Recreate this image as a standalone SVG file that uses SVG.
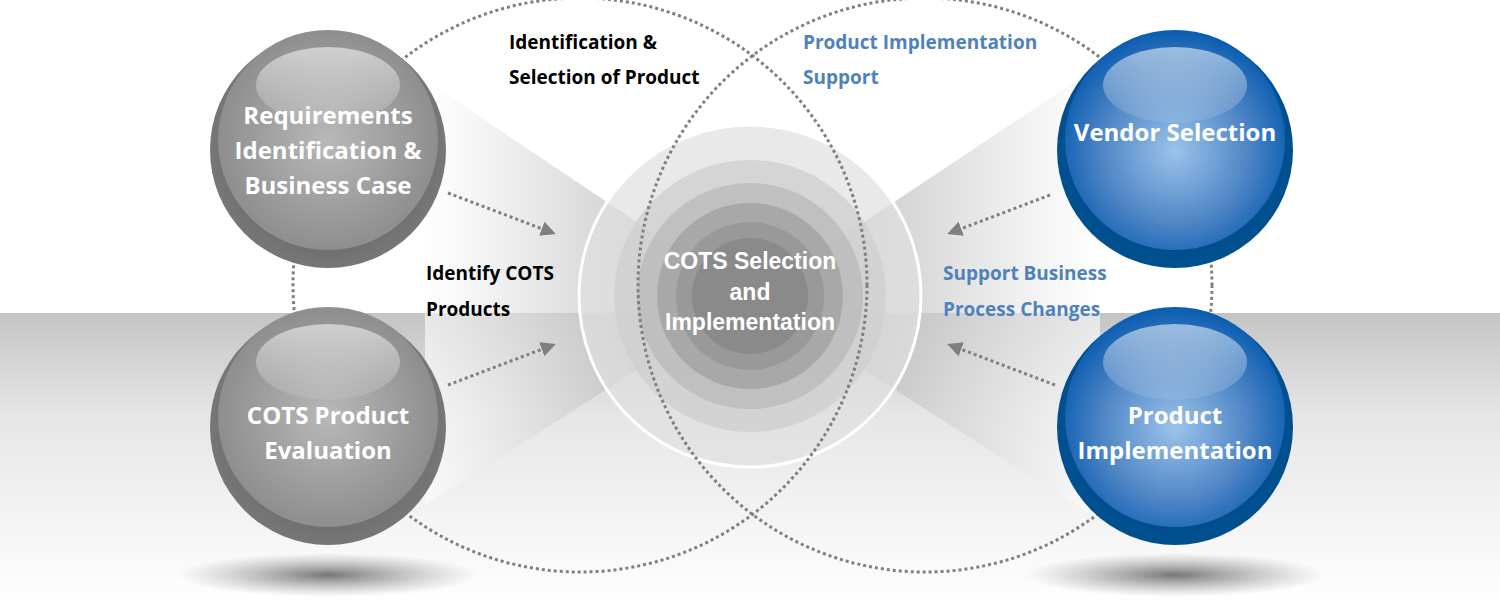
<svg xmlns="http://www.w3.org/2000/svg" width="1500" height="605" viewBox="0 0 1500 605">
<defs>
<linearGradient id="bg" x1="0" y1="0" x2="0" y2="1"><stop offset="0" stop-color="#c4c4c4"/><stop offset="0.35" stop-color="#e6e6e6"/><stop offset="1" stop-color="#ffffff"/></linearGradient>
<linearGradient id="bl" x1="0" y1="0" x2="1" y2="0"><stop offset="0" stop-color="#ffffff" stop-opacity="0.6"/><stop offset="1" stop-color="#999" stop-opacity="0.8"/></linearGradient>
<linearGradient id="br" x1="1" y1="0" x2="0" y2="0"><stop offset="0" stop-color="#ffffff" stop-opacity="0.6"/><stop offset="1" stop-color="#999" stop-opacity="0.8"/></linearGradient>
<radialGradient id="gOut" cx="0.5" cy="0.5" r="0.5"><stop offset="0.7" stop-color="#6a6a6a"/><stop offset="1" stop-color="#777"/></radialGradient>
<radialGradient id="gIn" cx="0.5" cy="0.5" r="0.55"><stop offset="0" stop-color="#b8b8b8"/><stop offset="1" stop-color="#8a8a8a"/></radialGradient>
<radialGradient id="bOut" cx="0.5" cy="0.5" r="0.5"><stop offset="0.7" stop-color="#004b8c"/><stop offset="1" stop-color="#00508f"/></radialGradient>
<radialGradient id="bIn" cx="0.5" cy="0.55" r="0.55"><stop offset="0" stop-color="#9cc3ea"/><stop offset="0.6" stop-color="#4f86c6"/><stop offset="1" stop-color="#0a5cb0"/></radialGradient>
<linearGradient id="hl" x1="0" y1="0" x2="0" y2="1"><stop offset="0" stop-color="#fff" stop-opacity="0.55"/><stop offset="1" stop-color="#fff" stop-opacity="0.08"/></linearGradient>
<radialGradient id="sh" cx="0.5" cy="0.5" r="0.5"><stop offset="0" stop-color="#555" stop-opacity="0.8"/><stop offset="1" stop-color="#888" stop-opacity="0"/></radialGradient>
<marker id="ah" viewBox="0 0 10 10" refX="8" refY="5" markerWidth="5" markerHeight="5" orient="auto"><path d="M0,0L10,5L0,10z" fill="#7f7f7f"/></marker>
</defs>
<style>
.dot{fill:none;stroke:#7f7f7f;stroke-width:3;stroke-dasharray:3 3}
.arr{fill:none;stroke:#7f7f7f;stroke-width:3;stroke-dasharray:3 3;marker-end:url(#ah)}
.st{font-family:"Open Sans","Liberation Sans",sans-serif;font-weight:bold;font-size:24px;fill:#fff;text-anchor:middle}
.ct{font-family:"Liberation Sans",Arial,sans-serif;font-weight:bold;font-size:23px;fill:#fff;text-anchor:middle}
.lb{font-family:"Open Sans","Liberation Sans",sans-serif;font-weight:bold;font-size:19px;fill:#000}
.lbb{font-family:"Open Sans","Liberation Sans",sans-serif;font-weight:bold;font-size:19px;fill:#4f81bd}
</style>
<rect width="1500" height="605" fill="#fff"/>
<rect y="313" width="1500" height="292" fill="url(#bg)"/>
<ellipse cx="328" cy="575" rx="150" ry="22" fill="url(#sh)"/>
<ellipse cx="1175" cy="575" rx="150" ry="22" fill="url(#sh)"/>
<g id="beams">
<polygon points="425,80 425,505 750,298" fill="url(#bl)"/>
<polygon points="1100,65 1100,520 750,298" fill="url(#br)"/>
</g>
<g id="center">
<circle cx="750" cy="296" r="171" fill="#e0e0e0" fill-opacity="0.7" stroke="#fff" stroke-width="3"/>
<circle cx="750" cy="296" r="136" fill="#cfcfcf" fill-opacity="0.8"/>
<circle cx="750" cy="296" r="113" fill="#bcbcbc" fill-opacity="0.85"/>
<circle cx="750" cy="296" r="93" fill="#a8a8a8"/>
<circle cx="750" cy="296" r="74" fill="#999"/>
<circle cx="750" cy="296" r="58" fill="#8a8a8a"/>
<text class="ct" x="750" y="269">COTS Selection</text>
<text class="ct" x="750" y="300">and</text>
<text class="ct" x="750" y="330">Implementation</text>
</g>
<g id="connectors">
<circle class="dot" cx="580" cy="285" r="287"/>
<circle class="dot" cx="925" cy="285" r="287"/>
<path class="arr" d="M448,193 L553,233"/>
<path class="arr" d="M448,385 L553,345"/>
<path class="arr" d="M1050,195 L950,233"/>
<path class="arr" d="M1055,385 L950,345"/>
</g>
<g id="n1"><circle cx="328" cy="150" r="118" fill="url(#gOut)"/><circle cx="328" cy="140" r="110" fill="url(#gIn)"/><ellipse cx="328" cy="85" rx="72" ry="38" fill="url(#hl)"/>
<text class="st" x="328" y="124">Requirements</text><text class="st" x="328" y="159">Identification &amp;</text><text class="st" x="328" y="194">Business Case</text></g>
<g id="n2"><circle cx="328" cy="427" r="118" fill="url(#gOut)"/><circle cx="328" cy="417" r="110" fill="url(#gIn)"/><ellipse cx="328" cy="362" rx="72" ry="38" fill="url(#hl)"/>
<text class="st" x="328" y="424">COTS Product</text><text class="st" x="328" y="459">Evaluation</text></g>
<g id="n3"><circle cx="1175" cy="150" r="118" fill="url(#bOut)"/><circle cx="1175" cy="140" r="110" fill="url(#bIn)"/><ellipse cx="1175" cy="85" rx="72" ry="38" fill="url(#hl)"/>
<text class="st" x="1175" y="141">Vendor Selection</text></g>
<g id="n4"><circle cx="1175" cy="427" r="118" fill="url(#bOut)"/><circle cx="1175" cy="417" r="110" fill="url(#bIn)"/><ellipse cx="1175" cy="362" rx="72" ry="38" fill="url(#hl)"/>
<text class="st" x="1175" y="424">Product</text><text class="st" x="1175" y="459">Implementation</text></g>
<g id="labels">
<text class="lb" x="509" y="49">Identification &amp;</text><text class="lb" x="509" y="84">Selection of Product</text>
<text class="lbb" x="803" y="49">Product Implementation</text><text class="lbb" x="803" y="84">Support</text>
<text class="lb" x="426" y="280">Identify COTS</text><text class="lb" x="426" y="316">Products</text>
<text class="lbb" x="943" y="280">Support Business</text><text class="lbb" x="943" y="316">Process Changes</text>
</g>
</svg>
